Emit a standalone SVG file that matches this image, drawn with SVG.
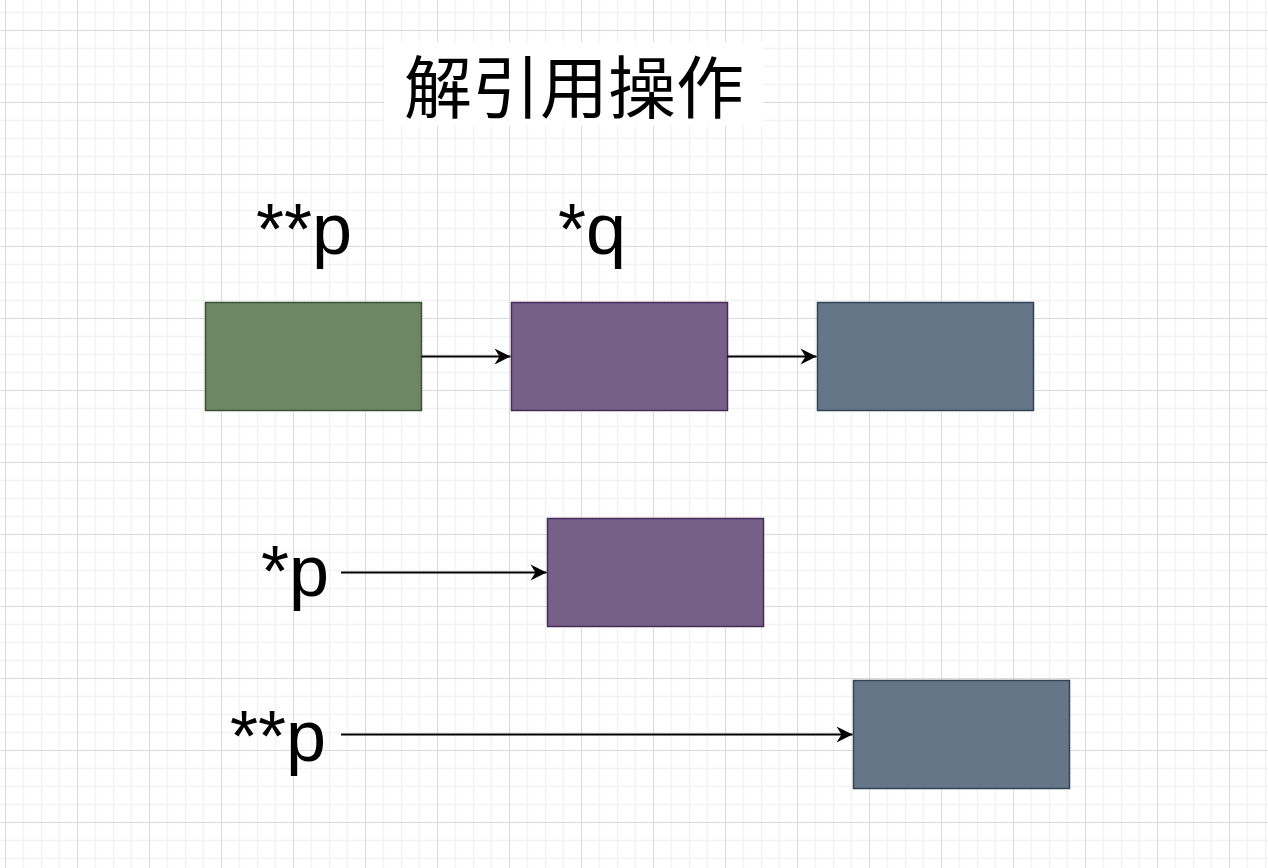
<svg xmlns="http://www.w3.org/2000/svg" width="1268" height="868" viewBox="0 0 1268 868">
<defs>
<pattern id="grid" patternUnits="userSpaceOnUse" x="5" y="30" width="72" height="72">
<path d="M18.5 0V72M36.5 0V72M54.5 0V72M0 18.5H72M0 36.5H72M0 54.5H72" stroke="#f2f2f2" stroke-width="1.5" fill="none"/>
<path d="M0.5 0V72M0 0.5H72" stroke="#dadada" stroke-width="1" fill="none"/>
</pattern>
<marker id="arr" markerUnits="userSpaceOnUse" markerWidth="18" markerHeight="18" viewBox="-17 -9 18 18" refX="0" refY="0" orient="auto">
<path d="M0 0L-16 -8L-11 0L-16 8Z" fill="#000"/>
</marker>
<style>
.green{fill:#6d8764;stroke:#3a5431;stroke-width:1.5}
.purple{fill:#76608a;stroke:#432d57;stroke-width:1.5}
.gray{fill:#647687;stroke:#314354;stroke-width:1.5}
.lbl{font-family:"Liberation Sans",Arial,sans-serif;font-size:72px;fill:#000}
.title{font-family:"Noto Sans CJK SC","Noto Sans",sans-serif;font-size:68px;fill:#000}
.edge{stroke:#000;stroke-width:1.8;fill:none;marker-end:url(#arr)}
</style>
</defs>
<rect width="1268" height="868" fill="#fff"/>
<rect width="1268" height="868" fill="url(#grid)"/>
<g id="title">
<rect x="384" y="42" width="379" height="84" fill="#fff"/>
<text class="title" x="574" y="113" text-anchor="middle">解引用操作</text>
</g>
<g id="label-pp-top"><text class="lbl" x="256" y="254">**p</text></g>
<g id="label-q"><text class="lbl" x="558" y="254">*q</text></g>
<g id="label-p"><text class="lbl" x="261" y="596">*p</text></g>
<g id="label-pp-bottom"><text class="lbl" x="230" y="761">**p</text></g>
<g id="node-green"><rect class="green" x="205.5" y="302.5" width="216" height="108"/></g>
<g id="node-purple"><rect class="purple" x="511.5" y="302.5" width="216" height="108"/></g>
<g id="node-gray"><rect class="gray" x="817.5" y="302.5" width="216" height="108"/></g>
<g id="node-purple2"><rect class="purple" x="547.5" y="518.5" width="216" height="108"/></g>
<g id="node-gray2"><rect class="gray" x="853.5" y="680.5" width="216" height="108"/></g>
<g id="connectors">
<path class="edge" d="M421.5 356.5H510.5"/>
<path class="edge" d="M727.5 356.5H816.5"/>
<path class="edge" d="M341 572.5H546.5"/>
<path class="edge" d="M341 734.5H852.5"/>
</g>
</svg>
